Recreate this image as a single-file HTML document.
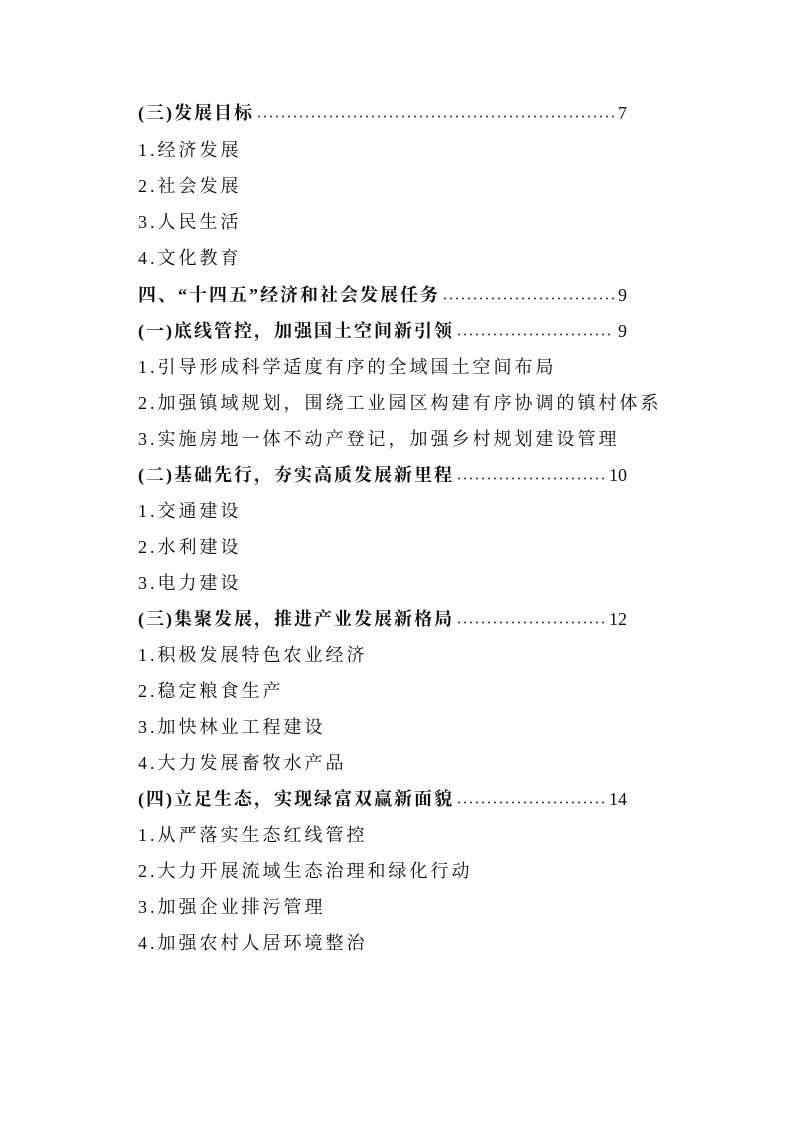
<!DOCTYPE html>
<html><head><meta charset="utf-8"><style>
body{margin:0;width:793px;height:1122px;background:#fff;position:relative;font-family:"Liberation Serif","Noto Serif CJK SC",serif;color:#111;}
.l{position:absolute;left:138px;height:24px;line-height:24px;font-size:18px;letter-spacing:3px;white-space:nowrap;}
.h{font-weight:bold;letter-spacing:2px;right:166px;display:flex;align-items:center;}
.h .d{flex:1;height:3px;margin:6px 4px 0 2px;background-image:radial-gradient(circle,#333 0.8px,transparent 1.1px);background-size:6px 3px;background-repeat:repeat-x;}
.h .p{font-weight:normal;letter-spacing:0;}
</style></head><body>
<div class="l h" style="top:101px"><span>(三)发展目标</span><span class="d"></span><span class="p">7</span></div>
<div class="l" style="top:138px">1.经济发展</div>
<div class="l" style="top:174px">2.社会发展</div>
<div class="l" style="top:210px">3.人民生活</div>
<div class="l" style="top:246px">4.文化教育</div>
<div class="l h" style="top:283px"><span>四、“十四五”经济和社会发展任务</span><span class="d"></span><span class="p">9</span></div>
<div class="l h" style="top:319px"><span>(一)底线管控，加强国土空间新引领</span><span class="d"></span><span class="p">9</span></div>
<div class="l" style="top:355px">1.引导形成科学适度有序的全域国土空间布局</div>
<div class="l" style="top:391px">2.加强镇域规划，围绕工业园区构建有序协调的镇村体系</div>
<div class="l" style="top:427px">3.实施房地一体不动产登记，加强乡村规划建设管理</div>
<div class="l h" style="top:463px"><span>(二)基础先行，夯实高质发展新里程</span><span class="d"></span><span class="p">10</span></div>
<div class="l" style="top:499px">1.交通建设</div>
<div class="l" style="top:535px">2.水利建设</div>
<div class="l" style="top:571px">3.电力建设</div>
<div class="l h" style="top:607px"><span>(三)集聚发展，推进产业发展新格局</span><span class="d"></span><span class="p">12</span></div>
<div class="l" style="top:643px">1.积极发展特色农业经济</div>
<div class="l" style="top:679px">2.稳定粮食生产</div>
<div class="l" style="top:715px">3.加快林业工程建设</div>
<div class="l" style="top:751px">4.大力发展畜牧水产品</div>
<div class="l h" style="top:787px"><span>(四)立足生态，实现绿富双赢新面貌</span><span class="d"></span><span class="p">14</span></div>
<div class="l" style="top:823px">1.从严落实生态红线管控</div>
<div class="l" style="top:859px">2.大力开展流域生态治理和绿化行动</div>
<div class="l" style="top:895px">3.加强企业排污管理</div>
<div class="l" style="top:931px">4.加强农村人居环境整治</div>
</body></html>
